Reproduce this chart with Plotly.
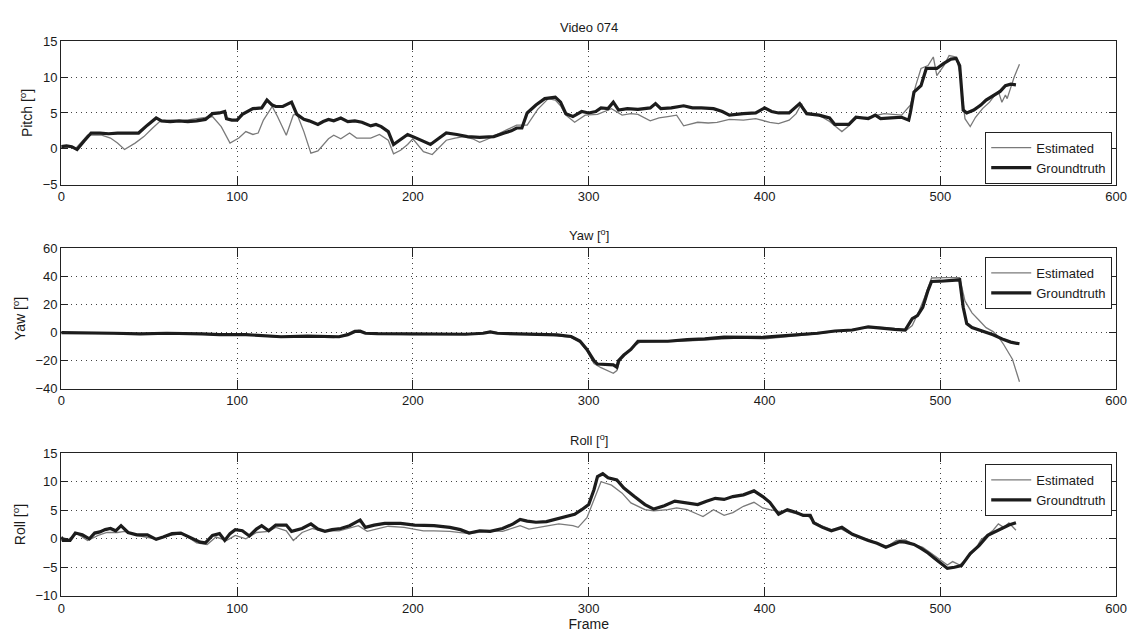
import plotly.graph_objects as go

# ---------------- data ----------------
pitch_gt_f = [0,3,6,9,13,17,22,27,32,38,44,49,54,57,62,67,72,77,82,86,90,93,94,97,100,103,106,109,114,117,120,122,126,129,131,134,138,141,146,149,152,155,159,163,167,171,176,179,182,186,189,193,197,201,206,210,215,219,225,231,238,246,252,256,259,262,265,270,275,278,281,284,287,291,296,300,304,307,311,314,317,322,328,335,338,341,347,354,359,364,371,376,380,388,395,400,404,408,414,420,424,431,437,440,448,452,459,463,466,472,478,482,483,485,489,492,498,502,506,509,511,513,515,519,523,526,530,534,537,540,543]
pitch_gt = [0.3,0.4,0.3,-0.1,1.1,2.2,2.2,2.1,2.2,2.2,2.2,3.3,4.3,3.9,3.8,3.9,3.8,3.9,4.1,4.9,5.0,5.2,4.2,4.0,4.0,4.8,5.2,5.6,5.7,6.8,6.1,5.9,5.9,6.2,6.5,4.8,4.1,3.9,3.4,3.8,4.1,3.9,4.3,3.8,3.9,3.7,3.2,3.4,3.1,2.4,0.6,1.3,2.0,1.6,1.0,0.6,1.5,2.2,2.0,1.7,1.6,1.7,2.2,2.5,2.9,2.9,5.0,6.1,7.0,7.1,7.2,6.5,4.9,4.5,5.2,5.0,5.2,5.7,5.6,6.5,5.4,5.6,5.5,5.7,6.3,5.6,5.7,6.0,5.7,5.7,5.6,5.2,4.7,4.9,5.0,5.7,5.2,5.0,5.0,6.3,4.9,4.7,4.3,3.4,3.4,4.4,4.2,4.7,4.2,4.3,4.4,4.0,5.1,7.9,8.8,11.2,11.2,11.9,12.5,12.6,11.6,5.4,5.0,5.4,6.1,6.8,7.4,8.0,8.8,9.0,8.9]

pitch_est_f = [0,4,8,15,23,28,32,36,42,47,52,56,62,68,74,79,86,91,96,101,105,109,112,115,120,123,128,132,134,138,142,146,152,155,159,164,168,176,181,186,189,193,197,200,203,206,211,215,219,224,229,234,238,242,246,253,259,265,271,277,281,284,287,292,298,305,313,319,324,328,335,340,345,350,354,358,362,368,373,380,388,395,403,408,414,418,421,423,431,437,444,448,451,459,468,478,483,486,489,493,496,498,502,505,509,511,513,514,517,520,524,528,531,533,535,537,538,540,542,545]
pitch_est = [0.2,0.3,0.0,1.9,1.9,1.5,0.8,-0.1,0.8,1.7,2.9,3.8,4.0,3.9,4.1,4.3,4.5,3.1,0.8,1.5,2.4,2.0,2.2,4.0,5.9,4.5,1.9,4.7,4.9,2.4,-0.6,-0.3,1.4,1.9,1.4,2.2,1.5,1.5,2.0,1.2,-0.7,-0.2,0.6,1.4,0.5,-0.4,-0.8,0.2,1.2,1.5,1.7,1.4,0.9,1.3,1.8,2.6,3.3,3.3,5.5,7.0,6.8,6.0,4.7,3.7,4.7,4.8,5.6,4.7,4.9,4.8,3.9,4.3,4.5,4.7,3.2,3.5,3.7,3.6,3.7,4.1,4.0,4.2,3.7,3.5,4.0,4.9,6.3,5.1,4.7,3.8,2.4,3.2,4.2,4.4,4.9,4.7,6.1,8.8,11.2,11.6,12.8,10.2,11.6,13.0,12.8,10.7,5.8,4.2,3.1,4.4,5.6,6.5,7.5,8.0,6.5,7.5,7.0,8.5,10.0,11.8]

yaw_gt_f = [0,15,30,45,60,80,90,105,115,125,140,150,158,163,167,170,173,180,195,210,230,240,244,248,260,275,282,290,295,299,303,305,310,314,316,317,320,324,328,335,345,356,366,377,388,398,408,419,430,440,450,459,467,474,480,484,487,490,493,495,500,505,511,513,515,518,522,526,530,536,540,545]
yaw_gt = [0,0,-0.5,-1.0,-0.5,-1.0,-1.5,-1.5,-2.5,-3.0,-2.5,-2.5,-3.0,-1.5,0.8,1.0,-0.5,-0.8,-1.0,-1.5,-1.2,-0.5,0.5,-0.5,-1.0,-1.5,-1.6,-2.8,-6.0,-12,-20,-22.4,-22.8,-23,-24.6,-20,-16,-12,-6.2,-6.0,-6.2,-5.0,-4.5,-3.2,-3.5,-3.5,-2.5,-1.6,-0.5,1.1,1.8,4.1,3.0,2.2,1.8,9.9,12,17.9,30,36.3,36.5,37,37.5,18,6.4,3.5,1.8,0.2,-1.6,-5.0,-6.8,-8.0]

yaw_est_f = [0,15,30,45,60,80,95,110,125,140,155,160,165,169,173,180,200,220,235,244,250,265,280,290,295,299,303,307,311,314,316,318,321,325,329,340,355,370,385,400,415,430,445,455,465,475,481,484,488,491,495,503,511,514,518,522,526,530,533,536,541,545]
yaw_est = [0,-0.3,-0.5,-1.2,-0.8,-1.2,-1.8,-2.0,-3.5,-3.0,-3.5,-2.5,0.0,1.5,0.0,-1.0,-1.5,-1.5,-1.0,0.8,-0.5,-1.2,-2.0,-3.5,-7,-13,-22,-25,-27,-29,-27,-19,-15,-10,-7,-6.8,-6.0,-5.0,-4.0,-4.5,-3.0,-1.0,1.5,3.0,3.8,2.5,2.0,5.0,15.6,25,38.8,39,39,22.5,14,8.7,3.5,0.7,-3.0,-8.5,-19,-35]

roll_gt_f = [0,1,5,8,12,16,19,22,25,28,31,34,38,43,49,54,58,63,68,73,79,82,86,90,93,96,99,103,107,111,114,118,122,128,131,137,142,146,150,154,159,164,170,173,178,184,193,201,206,212,221,227,232,238,244,251,257,261,265,270,276,281,287,292,296,300,303,305,308,311,316,320,326,332,337,343,349,354,362,367,372,377,382,388,394,399,403,408,413,418,422,426,428,433,438,444,450,459,464,469,473,477,480,485,489,493,497,501,504,508,512,517,522,527,531,535,539,543]
roll_gt = [0.3,-0.3,-0.3,1.0,0.7,0.0,1.0,1.2,1.6,1.8,1.4,2.3,1.1,0.7,0.7,-0.1,0.3,0.9,1.0,0.3,-0.6,-0.7,0.6,0.9,-0.3,0.9,1.6,1.4,0.5,1.7,2.3,1.4,2.4,2.4,1.3,1.8,2.6,1.7,1.3,1.6,1.8,2.3,3.3,2.0,2.4,2.7,2.7,2.4,2.4,2.3,2.0,1.6,1.0,1.4,1.3,1.8,2.6,3.4,3.1,2.9,3.0,3.4,3.9,4.3,5.1,6.0,8.6,10.9,11.4,10.7,10.3,8.9,7.4,6.0,5.2,5.8,6.6,6.4,6.0,6.6,7.1,6.9,7.4,7.7,8.4,7.4,6.4,4.3,5.1,4.6,4.1,4.1,2.8,2.0,1.4,2.0,0.8,-0.3,-0.8,-1.5,-1.0,-0.5,-0.6,-1.0,-1.7,-2.5,-3.5,-4.4,-5.2,-5.0,-4.7,-2.6,-1.2,0.6,1.2,1.8,2.4,2.8]

roll_est_f = [0,4,9,15,21,26,32,36,43,53,62,69,77,83,88,94,99,105,111,118,122,128,132,137,143,148,158,163,169,174,180,186,195,206,212,221,232,244,251,261,266,276,283,291,294,299,303,307,313,319,324,332,337,345,350,356,362,365,371,377,382,388,394,399,403,408,413,418,424,428,433,438,443,448,455,460,465,470,475,480,485,490,495,500,504,507,511,515,520,523,526,530,533,536,539,541,543]
roll_est = [0.3,-0.1,0.9,-0.3,0.6,1.1,1.1,1.3,0.6,0.0,0.6,0.9,-0.7,-1.0,0.3,-0.3,0.6,0.0,1.1,1.3,2.0,1.4,-0.3,1.1,1.8,1.4,1.4,1.8,2.3,1.3,1.8,2.2,2.0,1.4,1.4,1.3,0.9,1.4,1.3,2.3,1.7,2.3,2.6,2.3,2.0,3.7,6.9,10.0,9.4,8.0,6.3,5.1,4.9,5.1,5.4,5.1,4.3,3.9,5.1,4.1,4.6,5.7,6.4,5.4,5.1,4.8,4.8,4.4,4.2,3.0,2.2,1.6,1.8,1.0,0.2,-0.2,-1.0,-1.3,-0.3,-0.2,-1.0,-1.5,-2.6,-3.8,-4.6,-4.0,-4.6,-3.5,-1.8,-0.2,0.5,1.5,2.6,2.0,2.8,2.2,1.5]

series_names = ["Estimated", "Groundtruth"]
panel_titles = ["Video 074", "Yaw [<sup>o</sup>]", "Roll [<sup>o</sup>]"]
y_titles = ["Pitch [<sup>o</sup>]", "Yaw [<sup>o</sup>]", "Roll [<sup>o</sup>]"]
y_ranges = [[-5, 15], [-40, 60], [-10, 15]]
y_dticks = [5, 20, 5]

# ---------------- styling ----------------
W, H = 1140, 637
FONT = "Liberation Sans, Arial, sans-serif"
EST_COLOR = "#7a7a7a"
GT_COLOR = "#1c1c1c"

x0_px, x1_px = 58, 1127
panels_px = [(35, 182), (247, 391), (457, 603)]  # top, bottom in pixels
xdom = [x0_px / W, x1_px / W]

fig = go.Figure()
data = [
    (pitch_est_f, pitch_est, pitch_gt_f, pitch_gt),
    (yaw_est_f, yaw_est, yaw_gt_f, yaw_gt),
    (roll_est_f, roll_est, roll_gt_f, roll_gt),
]
# legend box: (anchor y px, yanchor)
legend_pos = [(181, "bottom"), (256, "top"), (468, "top")]

for i, (ef, ev, gf, gv) in enumerate(data):
    sfx = "" if i == 0 else str(i + 1)
    leg = "legend" if i == 0 else f"legend{i + 1}"
    fig.add_trace(go.Scatter(x=ef, y=ev, mode="lines", name=series_names[0],
                             line=dict(color=EST_COLOR, width=1.3),
                             xaxis="x" + sfx, yaxis="y" + sfx, legend=leg))
    fig.add_trace(go.Scatter(x=gf, y=gv, mode="lines", name=series_names[1],
                             line=dict(color=GT_COLOR, width=3.2),
                             xaxis="x" + sfx, yaxis="y" + sfx, legend=leg))

layout = dict(
    width=W, height=H,
    margin=dict(l=0, r=0, t=0, b=0),
    paper_bgcolor="white", plot_bgcolor="white",
    font=dict(family=FONT, size=13, color="#1a1a1a"),
    annotations=[],
)

for i in range(3):
    sfx = "" if i == 0 else str(i + 1)
    top, bot = panels_px[i]
    ydom = [1 - bot / H, 1 - top / H]
    axis_common = dict(
        showline=True, linecolor="#222", linewidth=1.2, mirror="allticks",
        ticks="inside", ticklen=7, tickcolor="#222", tickwidth=1,
        showgrid=True, gridcolor="#444", griddash="1px,4px", gridwidth=1,
        zeroline=False, tickfont=dict(family=FONT, size=13, color="#1a1a1a"),
    )
    xa = dict(axis_common, domain=xdom, range=[0, 600], dtick=100, tick0=0,
              anchor="y" + sfx, ticklen=9)
    ya = dict(axis_common, domain=ydom, range=y_ranges[i], dtick=y_dticks[i],
              anchor="x" + sfx,
              title=dict(text=y_titles[i], font=dict(family=FONT, size=14), standoff=6))
    if i == 2:
        xa["title"] = dict(text="Frame", font=dict(family=FONT, size=14), standoff=4)
    layout["xaxis" + sfx] = xa
    layout["yaxis" + sfx] = ya

    leg = "legend" if i == 0 else f"legend{i + 1}"
    ly, yanc = legend_pos[i]
    layout[leg] = dict(
        x=1123 / W, xanchor="right", y=1 - ly / H, yanchor=yanc,
        bgcolor="white", bordercolor="#222", borderwidth=1,
        font=dict(family=FONT, size=13, color="#1a1a1a"),
        tracegroupgap=0, itemwidth=40,
    )
    layout["annotations"].append(dict(
        text=panel_titles[i], xref="paper", yref="paper",
        x=(x0_px + x1_px) / 2 / W, y=1 - (top - 14) / H,
        xanchor="center", yanchor="middle", showarrow=False,
        font=dict(family=FONT, size=13, color="#1a1a1a"),
    ))

fig.update_layout(**layout)
fig.write_html("out.html")
